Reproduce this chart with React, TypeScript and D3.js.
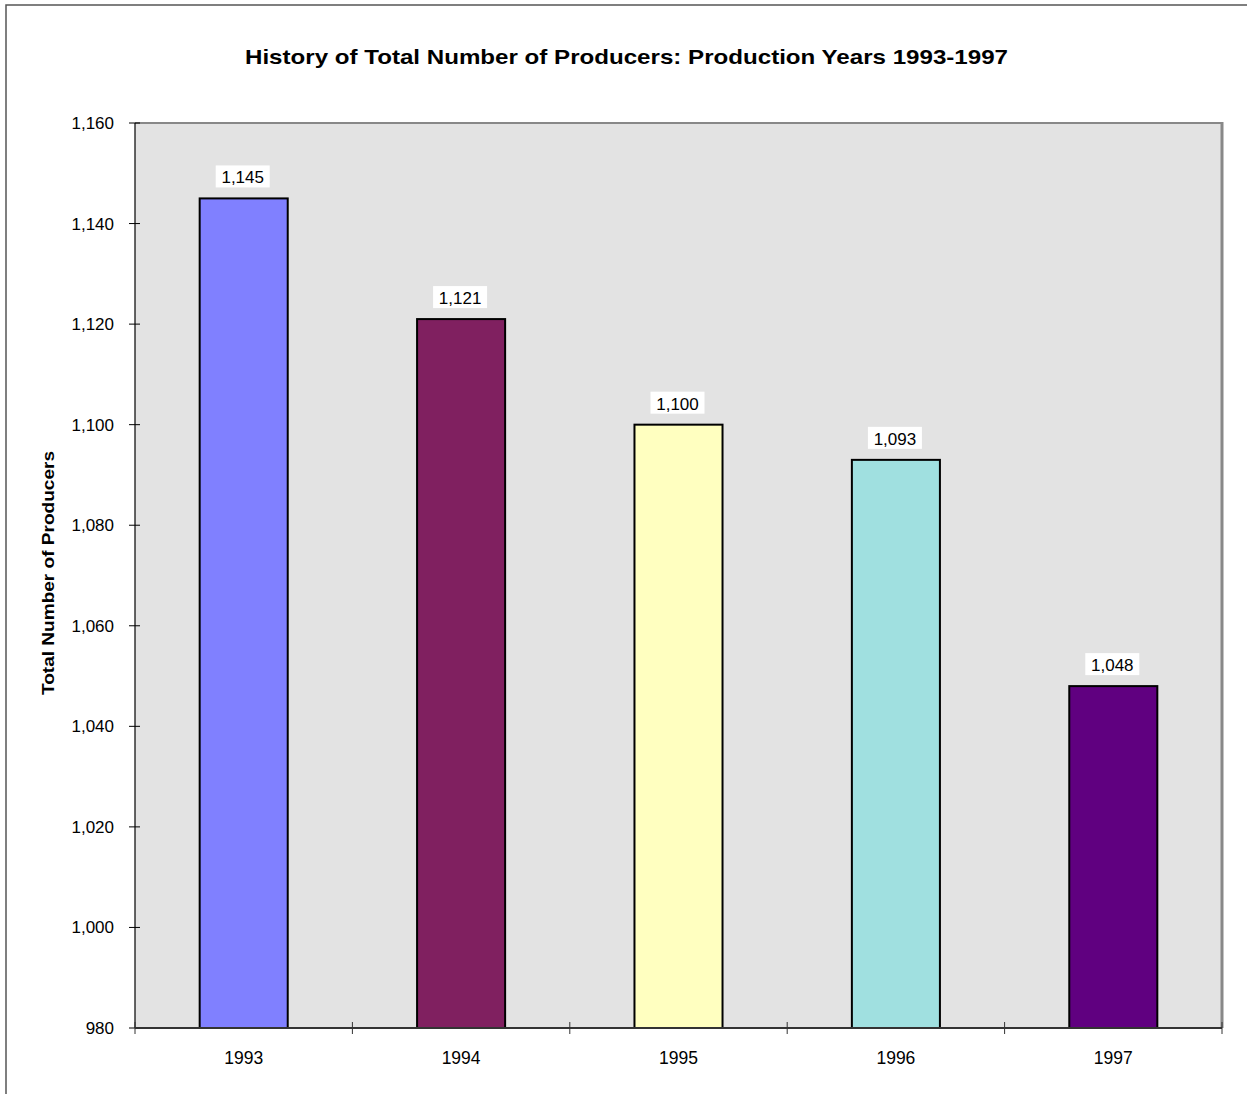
import React from "react";
import * as d3 from "d3";

const years = ["1993", "1994", "1995", "1996", "1997"];
const producers = [1145, 1121, 1100, 1093, 1048];
const barColors = ["#8080ff", "#802060", "#ffffc0", "#a0e0e0", "#600080"];
const yTicks = [980, 1000, 1020, 1040, 1060, 1080, 1100, 1120, 1140, 1160];

const W = 1247;
const H = 1094;
const plot = { left: 135, top: 123, right: 1222, bottom: 1028 };

export default function App() {
  const x = d3
    .scaleBand<string>()
    .domain(years)
    .range([plot.left, plot.right])
    .paddingInner(0)
    .paddingOuter(0);
  const y = d3.scaleLinear().domain([980, 1160]).range([plot.bottom, plot.top]);
  const fmt = d3.format(",");
  const bw = x.bandwidth() * 0.405;
  const font = "Arial, 'Liberation Sans', sans-serif";

  return (
    <svg
      width={W}
      height={H}
      style={{ position: "absolute", left: 0, top: 0, background: "#fff" }}
      fontFamily={font}
    >
      <rect x={6} y={5} width={W + 20} height={H + 20} fill="#fff" stroke="#555" strokeWidth={1.5} />
      <text
        x={626.5}
        y={64}
        textAnchor="middle"
        fontWeight="bold"
        fontSize={21}
        textLength={763}
        lengthAdjust="spacingAndGlyphs"
        fill="#000"
      >
        History of Total Number of Producers: Production Years 1993-1997
      </text>
      {/* plot area */}
      <rect
        x={plot.left}
        y={plot.top}
        width={plot.right - plot.left}
        height={plot.bottom - plot.top}
        fill="#e3e3e3"
      />
      <line x1={plot.left} x2={plot.right} y1={plot.top} y2={plot.top} stroke="#888" strokeWidth={2} />
      <line x1={plot.right} x2={plot.right} y1={plot.top - 1} y2={plot.bottom} stroke="#888" strokeWidth={3} />
      {/* bars */}
      {years.map((yr, i) => {
        const cx = (x(yr) as number) + x.bandwidth() / 2;
        const top = y(producers[i]);
        const label = fmt(producers[i]);
        return (
          <g key={yr}>
            <rect
              x={cx - bw / 2}
              y={top}
              width={bw}
              height={plot.bottom - top}
              fill={barColors[i]}
              stroke="#000"
              strokeWidth={2}
            />
            <rect x={cx - 28} y={top - 33} width={54} height={22} fill="#fff" />
            <text x={cx - 1} y={top - 15} textAnchor="middle" fontSize={17} fill="#000">
              {label}
            </text>
          </g>
        );
      })}
      {/* y axis */}
      <line x1={plot.left} x2={plot.left} y1={plot.top} y2={plot.bottom} stroke="#000" strokeWidth={1.2} />
      {yTicks.map((t) => (
        <g key={t}>
          <line x1={plot.left - 6} x2={plot.left + 5} y1={y(t)} y2={y(t)} stroke="#000" strokeWidth={1} />
          <text x={plot.left - 21} y={y(t) + 6} textAnchor="end" fontSize={17} fill="#000">
            {fmt(t)}
          </text>
        </g>
      ))}
      {/* x axis */}
      <line x1={plot.left} x2={plot.right} y1={plot.bottom} y2={plot.bottom} stroke="#333" strokeWidth={2} />
      {years.map((yr) => (
        <line
          key={"t" + yr}
          x1={x(yr) as number}
          x2={x(yr) as number}
          y1={plot.bottom - 6}
          y2={plot.bottom + 6}
          stroke="#333"
          strokeWidth={1}
        />
      ))}
      <line x1={plot.right} x2={plot.right} y1={plot.bottom - 6} y2={plot.bottom + 6} stroke="#333" strokeWidth={1} />
      {years.map((yr) => (
        <text
          key={"l" + yr}
          x={(x(yr) as number) + x.bandwidth() / 2}
          y={plot.bottom + 36}
          textAnchor="middle"
          fontSize={17.5}
          fill="#000"
        >
          {yr}
        </text>
      ))}
      <text
        transform={`translate(54, 573) rotate(-90)`}
        textAnchor="middle"
        fontWeight="bold"
        fontSize={17}
        textLength={244}
        lengthAdjust="spacingAndGlyphs"
        fill="#000"
      >
        Total Number of Producers
      </text>
    </svg>
  );
}
